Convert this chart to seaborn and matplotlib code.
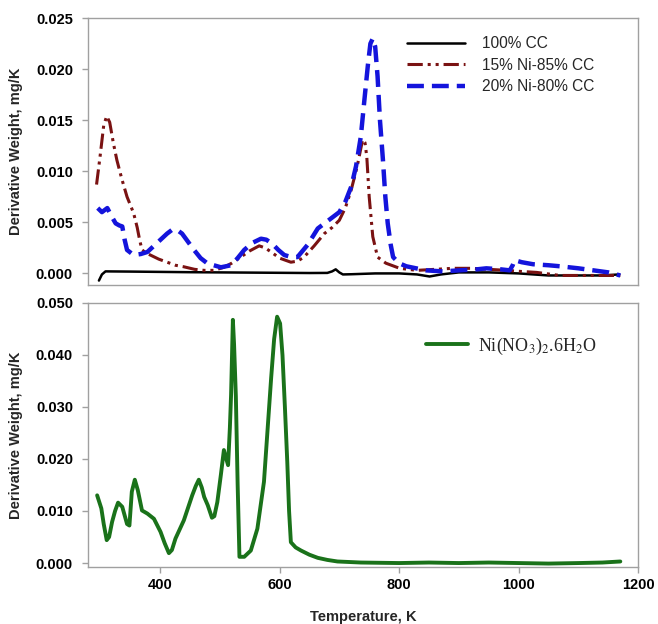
import numpy as np
import pandas as pd
import matplotlib
matplotlib.use("Agg")
import matplotlib.pyplot as plt
from matplotlib.ticker import FormatStrFormatter, MultipleLocator
import seaborn as sns

# 100% CC
t_cc = [298, 303, 309, 350, 400, 450, 500, 550, 600, 650, 680, 688, 694, 700, 706, 720,
        760, 800, 830, 851, 870, 900, 950, 1000, 1050, 1100, 1140, 1168]
w_cc = [-0.0007, -0.0001, 0.0002, 0.00018, 0.00015, 0.00012, 0.0001, 0.00008, 0.00006, 0.00004,
        0.00005, 0.0002, 0.0004, 0.0001, -0.0001, -0.00008, 0.0, 0.0, -0.0001, -0.0003, -0.0001,
        0.0001, 0.0001, 0.0, -0.0002, -0.0002, -0.0002, -0.0001]

# 15% Ni-85% CC
t_ni15 = [294, 300, 306, 311, 316, 322, 328, 336, 345, 356, 362, 366, 370, 377, 384, 398, 412,
          426, 440, 458, 474, 490, 507, 520, 535, 550, 566, 576, 586, 600, 619, 630, 641, 658,
          675, 688, 700, 710, 720, 730, 739, 743, 746, 750, 756, 764, 778, 801, 830, 860, 890,
          920, 950, 980, 1002, 1030, 1069, 1100, 1140, 1170]
w_ni15 = [0.0087, 0.0115, 0.0145, 0.0154, 0.0148, 0.0128, 0.0111, 0.0093, 0.0075, 0.0059,
          0.0045, 0.0033, 0.0023, 0.0020, 0.0018, 0.0014, 0.0011, 0.0008, 0.00065, 0.0004,
          0.0003, 0.0003, 0.0006, 0.0010, 0.0016, 0.0022, 0.0027, 0.0025, 0.0021, 0.0015,
          0.0011, 0.0012, 0.0016, 0.0027, 0.0039, 0.0045, 0.0052, 0.0064, 0.0082, 0.0105,
          0.0131, 0.0128, 0.0114, 0.0075, 0.0036, 0.0016, 0.0010, 0.0005, 0.0003, 0.0004,
          0.0005, 0.0005, 0.0004, 0.0003, 0.0002, 0.0001, -0.0002, -0.0002, -0.0002, -0.0002]

# 20% Ni-80% CC
t_ni20 = [296, 303, 312, 320, 326, 332, 337, 341, 345, 356, 368, 379, 390, 401, 412, 421, 430,
          437, 447, 457, 468, 479, 490, 502, 519, 530, 541, 555, 569, 578, 588, 598, 608, 620,
          630, 647, 664, 682, 700, 710, 720, 728, 736, 742, 748, 752, 756, 760, 764, 768, 773,
          777, 781, 786, 790, 800, 812, 845, 873, 901, 930, 946, 970, 985, 990, 993, 1005,
          1024, 1050, 1069, 1100, 1125, 1150, 1170]
w_ni20 = [0.0064, 0.0060, 0.0064, 0.0055, 0.0049, 0.0047, 0.0046, 0.0033, 0.0023, 0.0018,
          0.0019, 0.0021, 0.0027, 0.0033, 0.0039, 0.0043, 0.0042, 0.0039, 0.0031, 0.0023,
          0.0015, 0.0010, 0.0008, 0.0006, 0.0008, 0.0015, 0.0023, 0.0030, 0.0034, 0.0033,
          0.0029, 0.0023, 0.0018, 0.0016, 0.0016, 0.0028, 0.0044, 0.0052, 0.0060, 0.0070,
          0.0085, 0.0105, 0.0134, 0.0170, 0.0205, 0.0225, 0.0230, 0.0222, 0.0193, 0.0150,
          0.0111, 0.0075, 0.0049, 0.0028, 0.0016, 0.0010, 0.0007, 0.0003, 0.0002, 0.0003,
          0.0004, 0.0005, 0.0004, 0.0003, 0.0008, 0.0013, 0.0011, 0.0009, 0.0008, 0.0007,
          0.0005, 0.0003, 0.0001, -0.0002]

# Ni(NO3)2.6H2O
t_nit = [295, 302, 306, 311, 315, 320, 325, 330, 337, 345, 349, 353, 358, 363, 370, 379, 390,
         401, 408, 415, 420, 426, 440, 454, 460, 465, 470, 474, 480, 487, 491, 496, 502, 507,
         511, 514, 517, 519, 522, 524, 527, 530, 533, 541, 552, 563, 574, 586, 591, 596, 601,
         605, 609, 613, 616, 619, 627, 636, 650, 664, 680, 697, 736, 800, 850, 900, 950, 1000,
         1050, 1100, 1140, 1170]
w_nit = [0.0130, 0.0105, 0.0075, 0.0044, 0.0050, 0.0079, 0.0100, 0.0116, 0.0108, 0.0075,
         0.0072, 0.0137, 0.0160, 0.0140, 0.0101, 0.0095, 0.0085, 0.0060, 0.0038, 0.0019,
         0.0025, 0.0047, 0.0082, 0.0130, 0.0148, 0.0160, 0.0145, 0.0127, 0.0111, 0.0087,
         0.0090, 0.0117, 0.0170, 0.0217, 0.0200, 0.0188, 0.0260, 0.0323, 0.0467, 0.0420,
         0.0320, 0.0150, 0.0012, 0.0012, 0.0024, 0.0066, 0.0156, 0.0355, 0.0430, 0.0473,
         0.0460, 0.0399, 0.0300, 0.0194, 0.0100, 0.0040, 0.0030, 0.0024, 0.0016, 0.0010,
         0.0006, 0.0003, 0.0001, 0.0000, 0.0001, 0.0000, 0.0001, 0.0000, -0.0001, 0.0000,
         0.0001, 0.0003]

sns.set_style("ticks")
plt.rcParams["font.family"] = ["Liberation Sans", "DejaVu Sans"]
plt.rcParams["mathtext.fontset"] = "stix"

fig = plt.figure(figsize=(6.58, 6.24), dpi=100)
ax1 = fig.add_axes([0.134, 0.543, 0.836, 0.428])
ax2 = fig.add_axes([0.134, 0.091, 0.836, 0.424])

sns.lineplot(x=t_cc, y=w_cc, ax=ax1, color="black", lw=1.8, estimator=None, sort=False,
             label="100% CC")
sns.lineplot(x=t_ni15, y=w_ni15, ax=ax1, color="#7a1212", lw=2.2, estimator=None, sort=False,
             linestyle=(0, (5, 1.6, 1, 1.6, 1, 1.6)), label="15% Ni-85% CC")
sns.lineplot(x=t_ni20, y=w_ni20, ax=ax1, color="#1414dc", lw=3.2, estimator=None, sort=False,
             linestyle=(0, (3.8, 1.8)), label="20% Ni-80% CC")
sns.lineplot(x=t_nit, y=w_nit, ax=ax2, color="#1a721a", lw=2.8, estimator=None, sort=False,
             label=r"Ni(NO$_3$)$_2$.6H$_2$O")

for ax in (ax1, ax2):
    ax.set_xlim(280, 1200)
    for s in ax.spines.values():
        s.set_color("#a0a0a0")
        s.set_linewidth(1.0)
    ax.tick_params(colors="#a0a0a0", labelcolor="black", length=4, width=1, labelsize=10.5)
    ax.tick_params(axis="y", pad=7)
    ax.yaxis.set_major_formatter(FormatStrFormatter("%.3f"))
    ax.set_ylabel("Derivative Weight, mg/K", fontsize=10.5, fontweight="bold", labelpad=9)

ax1.set_ylim(-0.00115, 0.025)
ax1.yaxis.set_major_locator(MultipleLocator(0.005))
ax1.tick_params(axis="x", bottom=False, labelbottom=False)
ax1.set_xlabel("")

ax2.set_ylim(-0.0008, 0.05)
ax2.yaxis.set_major_locator(MultipleLocator(0.01))
ax2.xaxis.set_major_locator(MultipleLocator(200))
ax2.set_xlabel("Temperature, K", fontsize=10.5, fontweight="bold", labelpad=13)

for ax in (ax1, ax2):
    for lab in ax.get_yticklabels() + ax.get_xticklabels():
        lab.set_fontweight("bold")

ax1.legend(loc="upper left", bbox_to_anchor=(0.58, 0.933), frameon=False, fontsize=11.2,
           handlelength=3.7, handletextpad=1.1, labelspacing=0.42, borderaxespad=0,
           borderpad=0)
ax2.legend(loc="upper left", bbox_to_anchor=(0.615, 0.875), frameon=False, handlelength=2.3,
           handletextpad=0.55, borderaxespad=0, borderpad=0,
           prop={"family": "Liberation Serif", "size": 13})

fig.savefig("out.png", dpi=100)
